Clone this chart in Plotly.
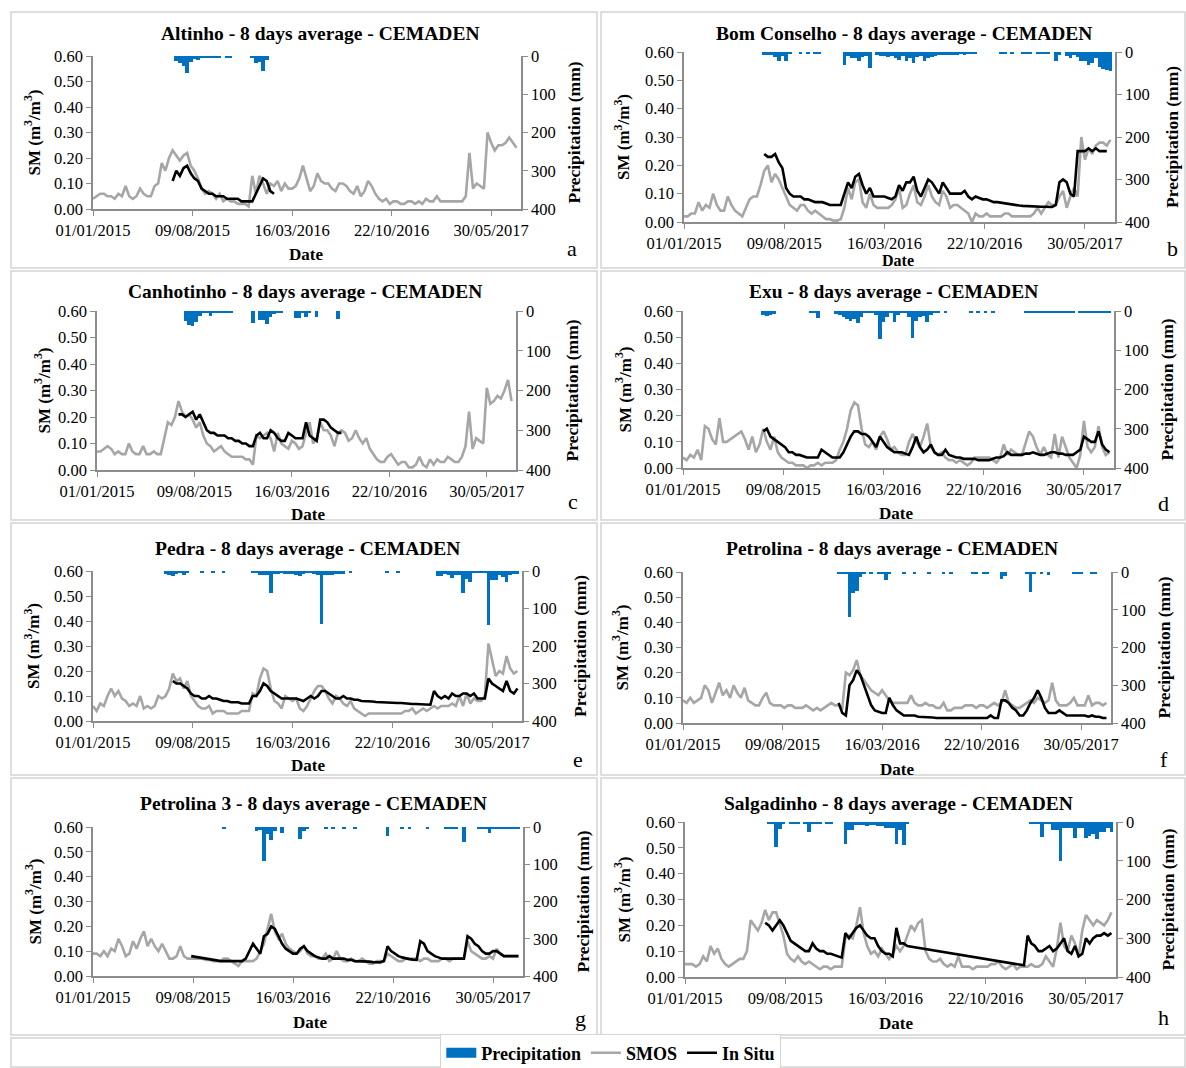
import pandas as pd
import plotly.graph_objects as go

# ---------------------------------------------------------------------------
# Time base: 8-day composites starting 01/01/2015
# ---------------------------------------------------------------------------
START = pd.Timestamp("2015-01-01")
STEP_DAYS = 8
X_END = "2017-08-04"
TICK_DATES = ["2015-01-01", "2015-08-09", "2016-03-16", "2016-10-22", "2017-05-30"]
TICK_TEXT = ["01/01/2015", "09/08/2015", "16/03/2016", "22/10/2016", "30/05/2017"]

stations = ["Altinho", "Bom Conselho", "Canhotinho", "Exu",
            "Pedra", "Petrolina", "Petrolina 3", "Salgadinho"]
letters = ["a", "b", "c", "d", "e", "f", "g", "h"]

# ---------------------------------------------------------------------------
# Soil moisture (m3/m3): SMOS from the first composite, in situ from its start index
# Precipitation (mm per 8 days) from its start index
# ---------------------------------------------------------------------------
a_smos = [0.04, 0.05, 0.06, 0.06, 0.05, 0.05, 0.04, 0.06, 0.05, 0.09,
          0.05, 0.04, 0.05, 0.08, 0.06, 0.05, 0.05, 0.09, 0.10, 0.18,
          0.15, 0.20, 0.23, 0.21, 0.19, 0.21, 0.22, 0.17, 0.15, 0.12,
          0.08, 0.06, 0.07, 0.06, 0.04, 0.06, 0.03, 0.04, 0.03, 0.03,
          0.02, 0.02, 0.02, 0.01, 0.13, 0.06, 0.13, 0.10, 0.06, 0.10,
          0.09, 0.11, 0.07, 0.10, 0.08, 0.08, 0.09, 0.12, 0.17, 0.12,
          0.07, 0.09, 0.14, 0.11, 0.10, 0.10, 0.08, 0.07, 0.10, 0.10,
          0.09, 0.07, 0.06, 0.09, 0.05, 0.07, 0.11, 0.09, 0.06, 0.04,
          0.03, 0.04, 0.02, 0.03, 0.03, 0.02, 0.02, 0.03, 0.03, 0.02,
          0.03, 0.02, 0.04, 0.03, 0.03, 0.05, 0.03, 0.03, 0.03, 0.03,
          0.03, 0.03, 0.03, 0.05, 0.22, 0.08, 0.10, 0.09, 0.08, 0.30,
          0.26, 0.23, 0.25, 0.25, 0.26, 0.28, 0.26, 0.24]
a_insitu_start = 22
a_insitu = [0.11, 0.15, 0.13, 0.16, 0.17, 0.14, 0.12, 0.11, 0.08, 0.07,
            0.06, 0.06, 0.05, 0.05, 0.05, 0.04, 0.04, 0.04, 0.04, 0.03,
            0.03, 0.03, 0.03, 0.06, 0.09, 0.12, 0.11, 0.07, 0.06]
a_rain_start = 23
a_rain = [12, 18, 25, 45, 15, 8, 10, 3, 6, 3, 3, 3, 3, 0, 3, 3, 0, 0, 0, 0,
          0, 3, 18, 15, 40, 10]

b_smos = [0.02, 0.02, 0.03, 0.03, 0.07, 0.04, 0.06, 0.05, 0.10, 0.06,
          0.04, 0.04, 0.09, 0.06, 0.04, 0.03, 0.02, 0.05, 0.08, 0.09,
          0.09, 0.13, 0.18, 0.20, 0.14, 0.17, 0.15, 0.12, 0.09, 0.06,
          0.05, 0.04, 0.06, 0.06, 0.04, 0.03, 0.04, 0.03, 0.02, 0.01,
          0.01, 0.005, 0.005, 0.01, 0.05, 0.12, 0.08, 0.14, 0.15, 0.07,
          0.05, 0.10, 0.06, 0.05, 0.05, 0.05, 0.05, 0.06, 0.08, 0.12,
          0.05, 0.06, 0.10, 0.13, 0.07, 0.06, 0.09, 0.13, 0.09, 0.07,
          0.06, 0.11, 0.09, 0.05, 0.06, 0.06, 0.05, 0.04, 0.03, 0.00,
          0.03, 0.02, 0.02, 0.03, 0.02, 0.02, 0.02, 0.02, 0.03, 0.03,
          0.02, 0.02, 0.02, 0.02, 0.02, 0.02, 0.03, 0.05, 0.03, 0.05,
          0.07, 0.06, 0.06, 0.09, 0.11, 0.05, 0.09, 0.12, 0.09, 0.30,
          0.22, 0.26, 0.24, 0.27, 0.28, 0.28, 0.27, 0.29]
b_insitu_start = 22
b_insitu = [0.24, 0.23, 0.23, 0.24, 0.21, 0.19, 0.12, 0.10, 0.09, 0.09,
            0.09, 0.08, 0.08, 0.075, 0.07, 0.07, 0.07, 0.065, 0.06, 0.06,
            0.06, 0.06, 0.10, 0.14, 0.12, 0.16, 0.17, 0.13, 0.10, 0.12,
            0.09, 0.09, 0.09, 0.09, 0.085, 0.08, 0.09, 0.13, 0.11, 0.14,
            0.14, 0.16, 0.11, 0.09, 0.12, 0.15, 0.14, 0.12, 0.10, 0.14,
            0.12, 0.10, 0.10, 0.10, 0.10, 0.11, 0.09, 0.08, 0.09, 0.085,
            0.08, 0.08, 0.075, 0.07, 0.07, 0.068, 0.065, 0.063, 0.06, 0.06,
            0.058, 0.057, 0.056, 0.055, 0.055, 0.055, 0.054, 0.054, 0.053, 0.053,
            0.06, 0.14, 0.15, 0.14, 0.10, 0.09, 0.25, 0.25, 0.25, 0.26,
            0.25, 0.26, 0.25, 0.25, 0.25]
b_rain_start = 22
b_rain = [8, 8, 8, 12, 20, 10, 22, 5, 0, 0,
          4, 0, 3, 0, 3, 3, 0, 0, 0, 0,
          0, 0, 30, 10, 15, 15, 20, 12, 10, 38,
          0, 8, 10, 10, 12, 10, 15, 18, 10, 20,
          15, 25, 12, 10, 20, 15, 12, 10, 8, 8,
          8, 6, 6, 8, 5, 8, 5, 5, 4, 0,
          0, 0, 0, 0, 0, 3, 3, 0, 3, 0,
          0, 3, 3, 3, 0, 3, 3, 3, 5, 0,
          20, 8, 0, 10, 15, 8, 12, 20, 22, 30,
          25, 15, 35, 40, 42, 45]

c_smos = [0.07, 0.07, 0.08, 0.09, 0.08, 0.06, 0.07, 0.06, 0.06, 0.10,
          0.07, 0.06, 0.06, 0.09, 0.06, 0.06, 0.07, 0.06, 0.06, 0.12,
          0.18, 0.17, 0.20, 0.26, 0.22, 0.20, 0.21, 0.19, 0.16, 0.18,
          0.13, 0.10, 0.09, 0.07, 0.08, 0.09, 0.07, 0.06, 0.05, 0.05,
          0.05, 0.05, 0.04, 0.04, 0.02, 0.13, 0.12, 0.13, 0.14, 0.12,
          0.07, 0.14, 0.10, 0.09, 0.08, 0.11, 0.10, 0.08, 0.09, 0.14,
          0.18, 0.10, 0.12, 0.18, 0.15, 0.15, 0.13, 0.09, 0.14, 0.15,
          0.14, 0.11, 0.12, 0.15, 0.12, 0.10, 0.12, 0.08, 0.06, 0.04,
          0.03, 0.03, 0.05, 0.06, 0.04, 0.02, 0.03, 0.03, 0.01, 0.01,
          0.02, 0.05, 0.02, 0.01, 0.04, 0.02, 0.04, 0.03, 0.03, 0.05,
          0.04, 0.03, 0.03, 0.05, 0.09, 0.22, 0.08, 0.12, 0.11, 0.10,
          0.31, 0.25, 0.26, 0.28, 0.27, 0.30, 0.34, 0.26]
c_insitu_start = 23
c_insitu = [0.21, 0.21, 0.20, 0.21, 0.22, 0.19, 0.21, 0.18, 0.15, 0.14,
            0.14, 0.13, 0.13, 0.13, 0.12, 0.12, 0.11, 0.11, 0.10, 0.10,
            0.09, 0.09, 0.13, 0.14, 0.12, 0.12, 0.15, 0.14, 0.12, 0.11,
            0.11, 0.14, 0.13, 0.12, 0.12, 0.12, 0.18, 0.13, 0.12, 0.11,
            0.19, 0.19, 0.18, 0.16, 0.15, 0.14, 0.14]
c_rain_start = 25
c_rain = [25, 35, 38, 28, 12, 5, 5, 12, 5, 5,
          5, 5, 5, 5, 0, 0, 0, 0, 0, 30,
          0, 22, 22, 32, 15, 8, 5, 5, 0, 0,
          0, 18, 18, 5, 15, 3, 0, 15, 0, 0,
          0, 0, 0, 20]

d_smos = [0.04, 0.03, 0.05, 0.04, 0.07, 0.03, 0.16, 0.15, 0.11, 0.09,
          0.19, 0.10, 0.10, 0.11, 0.12, 0.13, 0.14, 0.11, 0.07, 0.12,
          0.06, 0.09, 0.15, 0.10, 0.07, 0.12, 0.06, 0.04, 0.03, 0.02,
          0.02, 0.01, 0.01, 0.01, 0.00, 0.01, 0.01, 0.02, 0.01, 0.02,
          0.02, 0.02, 0.03, 0.07, 0.10, 0.15, 0.22, 0.25, 0.24, 0.15,
          0.09, 0.08, 0.10, 0.07, 0.12, 0.14, 0.11, 0.07, 0.08, 0.06,
          0.05, 0.05, 0.10, 0.13, 0.10, 0.08, 0.12, 0.17, 0.08, 0.06,
          0.05, 0.06, 0.04, 0.03, 0.03, 0.02, 0.03, 0.02, 0.01, 0.02,
          0.04, 0.04, 0.04, 0.04, 0.04, 0.03, 0.02, 0.04, 0.09, 0.05,
          0.07, 0.06, 0.05, 0.05, 0.10, 0.14, 0.12, 0.08, 0.05, 0.08,
          0.05, 0.04, 0.13, 0.04, 0.12, 0.08, 0.04, 0.02, 0.00, 0.05,
          0.18, 0.08, 0.06, 0.08, 0.16, 0.08, 0.05, 0.06]
d_insitu_start = 22
d_insitu = [0.14, 0.15, 0.12, 0.11, 0.10, 0.09, 0.08, 0.06, 0.06, 0.05,
            0.05, 0.045, 0.04, 0.04, 0.04, 0.04, 0.07, 0.06, 0.05, 0.04,
            0.04, 0.04, 0.06, 0.09, 0.12, 0.14, 0.14, 0.13, 0.13, 0.12,
            0.10, 0.08, 0.12, 0.10, 0.08, 0.07, 0.06, 0.06, 0.06, 0.055,
            0.05, 0.08, 0.12, 0.08, 0.06, 0.07, 0.09, 0.06, 0.05, 0.05,
            0.07, 0.05, 0.045, 0.04, 0.04, 0.035, 0.035, 0.035, 0.035, 0.03,
            0.03, 0.03, 0.03, 0.035, 0.04, 0.04, 0.045, 0.06, 0.05, 0.05,
            0.05, 0.05, 0.055, 0.055, 0.06, 0.055, 0.05, 0.05, 0.055, 0.06,
            0.06, 0.055, 0.055, 0.05, 0.05, 0.05, 0.06, 0.07, 0.12, 0.11,
            0.10, 0.10, 0.14, 0.09, 0.07, 0.06]
d_rain_start = 22
d_rain = [10, 12, 10, 8, 0, 0, 0, 0, 0, 0,
          0, 0, 0, 3, 4, 18, 0, 0, 0, 0,
          8, 10, 15, 20, 25, 20, 30, 15, 5, 3,
          3, 10, 72, 28, 15, 5, 28, 10, 3, 3,
          15, 70, 25, 15, 12, 28, 10, 5, 3, 0,
          3, 0, 0, 0, 0, 0, 0, 3, 0, 3,
          0, 3, 0, 3, 0, 0, 0, 0, 0, 0,
          0, 0, 4, 4, 4, 4, 4, 4, 4, 4,
          4, 4, 4, 4, 4, 4, 0, 4, 4, 4,
          4, 4, 4, 4, 4, 4]

e_smos = [0.06, 0.04, 0.07, 0.06, 0.10, 0.13, 0.10, 0.12, 0.09, 0.08,
          0.06, 0.07, 0.06, 0.10, 0.05, 0.06, 0.05, 0.06, 0.10, 0.09,
          0.10, 0.13, 0.19, 0.16, 0.17, 0.13, 0.16, 0.10, 0.08, 0.06,
          0.05, 0.05, 0.06, 0.03, 0.04, 0.04, 0.04, 0.03, 0.03, 0.03,
          0.03, 0.04, 0.04, 0.04, 0.11, 0.10, 0.17, 0.21, 0.20, 0.13,
          0.08, 0.07, 0.05, 0.10, 0.09, 0.08, 0.09, 0.05, 0.04, 0.06,
          0.09, 0.12, 0.14, 0.14, 0.12, 0.09, 0.07, 0.10, 0.09, 0.07,
          0.06, 0.08, 0.05, 0.04, 0.03, 0.02, 0.03, 0.03, 0.03, 0.03,
          0.03, 0.03, 0.03, 0.03, 0.03, 0.03, 0.04, 0.04, 0.05, 0.03,
          0.04, 0.05, 0.04, 0.05, 0.06, 0.05, 0.06, 0.06, 0.06, 0.07,
          0.06, 0.10, 0.06, 0.11, 0.07, 0.09, 0.08, 0.08, 0.10, 0.31,
          0.25, 0.18, 0.20, 0.19, 0.26, 0.21, 0.19, 0.20]
e_insitu_start = 22
e_insitu = [0.16, 0.15, 0.15, 0.14, 0.13, 0.11, 0.10, 0.10, 0.09, 0.09,
            0.10, 0.09, 0.09, 0.085, 0.08, 0.08, 0.075, 0.075, 0.075, 0.07,
            0.07, 0.07, 0.10, 0.10, 0.12, 0.15, 0.14, 0.12, 0.11, 0.10,
            0.09, 0.09, 0.09, 0.09, 0.09, 0.085, 0.08, 0.09, 0.10, 0.09,
            0.10, 0.12, 0.12, 0.11, 0.10, 0.09, 0.09, 0.10, 0.09, 0.09,
            0.085, 0.085, 0.08, 0.08, 0.08, 0.078, 0.076, 0.075, 0.075, 0.074,
            0.073, 0.072, 0.072, 0.072, 0.07, 0.068, 0.068, 0.068, 0.067, 0.066,
            0.065, 0.065, 0.12, 0.10, 0.09, 0.10, 0.09, 0.11, 0.10, 0.10,
            0.11, 0.11, 0.10, 0.11, 0.09, 0.09, 0.09, 0.17, 0.15, 0.14,
            0.13, 0.12, 0.16, 0.12, 0.11, 0.13]
e_rain_start = 20
e_rain = [8, 10, 12, 8, 6, 10, 4, 0, 0, 0,
          5, 0, 0, 5, 0, 0, 5, 0, 0, 0,
          0, 0, 0, 0, 5, 5, 10, 10, 10, 58,
          8, 8, 5, 8, 8, 8, 10, 12, 8, 5,
          5, 8, 10, 140, 10, 10, 10, 8, 8, 8,
          0, 3, 0, 0, 0, 0, 0, 0, 0, 0,
          0, 5, 0, 0, 5, 0, 0, 0, 0, 0,
          0, 0, 0, 0, 0, 13, 13, 8, 10, 18,
          10, 10, 58, 20, 28, 5, 5, 5, 5, 145,
          25, 25, 10, 15, 28, 10, 8, 8]

f_smos = [0.09, 0.08, 0.10, 0.08, 0.09, 0.10, 0.15, 0.13, 0.08, 0.12,
          0.16, 0.11, 0.13, 0.10, 0.15, 0.12, 0.10, 0.14, 0.09, 0.08,
          0.07, 0.07, 0.10, 0.12, 0.08, 0.07, 0.07, 0.07, 0.06, 0.07,
          0.07, 0.06, 0.06, 0.06, 0.07, 0.06, 0.05, 0.06, 0.05, 0.06,
          0.07, 0.08, 0.07, 0.07, 0.06, 0.20, 0.19, 0.21, 0.25, 0.19,
          0.17, 0.15, 0.13, 0.12, 0.11, 0.13, 0.11, 0.09, 0.08, 0.08,
          0.08, 0.08, 0.08, 0.11, 0.08, 0.07, 0.07, 0.08, 0.07, 0.07,
          0.06, 0.06, 0.08, 0.05, 0.05, 0.06, 0.06, 0.06, 0.07, 0.07,
          0.07, 0.06, 0.07, 0.07, 0.06, 0.07, 0.08, 0.07, 0.08, 0.13,
          0.08, 0.07, 0.06, 0.06, 0.07, 0.08, 0.09, 0.08, 0.10, 0.09,
          0.08, 0.09, 0.16, 0.09, 0.07, 0.07, 0.07, 0.08, 0.10, 0.07,
          0.07, 0.07, 0.11, 0.07, 0.08, 0.08, 0.07, 0.08]
f_insitu_start = 43
f_insitu = [0.08, 0.04, 0.03, 0.15, 0.17, 0.21, 0.19, 0.15, 0.11, 0.07,
            0.05, 0.045, 0.04, 0.04, 0.10, 0.07, 0.05, 0.04, 0.03, 0.03,
            0.03, 0.03, 0.025, 0.025, 0.025, 0.022, 0.022, 0.02, 0.02, 0.02,
            0.02, 0.02, 0.02, 0.02, 0.02, 0.02, 0.02, 0.02, 0.02, 0.02,
            0.02, 0.02, 0.03, 0.02, 0.02, 0.09, 0.09, 0.08, 0.06, 0.05,
            0.03, 0.03, 0.05, 0.08, 0.10, 0.13, 0.10, 0.06, 0.04, 0.04,
            0.04, 0.05, 0.04, 0.03, 0.03, 0.03, 0.03, 0.03, 0.03, 0.025,
            0.03, 0.025, 0.025, 0.02, 0.02]
f_rain_start = 43
f_rain = [5, 5, 5, 120, 55, 50, 12, 5, 0, 3,
          0, 3, 3, 20, 3, 0, 0, 0, 3, 0,
          0, 3, 0, 0, 0, 3, 0, 0, 0, 3,
          0, 3, 0, 0, 0, 0, 0, 3, 3, 0,
          5, 5, 0, 0, 0, 18, 10, 0, 0, 0,
          0, 0, 5, 53, 5, 0, 5, 0, 8, 0,
          0, 0, 0, 0, 0, 3, 3, 3, 0, 0,
          3, 3]

g_smos = [0.09, 0.09, 0.08, 0.10, 0.08, 0.11, 0.10, 0.15, 0.12, 0.08,
          0.09, 0.14, 0.11, 0.15, 0.18, 0.12, 0.15, 0.12, 0.10, 0.13,
          0.10, 0.07, 0.07, 0.08, 0.12, 0.08, 0.07, 0.07, 0.07, 0.07,
          0.07, 0.065, 0.065, 0.06, 0.06, 0.06, 0.07, 0.07, 0.06, 0.05,
          0.04, 0.06, 0.06, 0.06, 0.06, 0.07, 0.10, 0.13, 0.19, 0.25,
          0.18, 0.15, 0.17, 0.13, 0.11, 0.10, 0.09, 0.10, 0.12, 0.09,
          0.08, 0.08, 0.07, 0.07, 0.09, 0.06, 0.07, 0.10, 0.07, 0.06,
          0.06, 0.07, 0.06, 0.06, 0.07, 0.06, 0.05, 0.05, 0.06, 0.06,
          0.06, 0.09, 0.08, 0.07, 0.06, 0.06, 0.07, 0.07, 0.07, 0.07,
          0.06, 0.07, 0.07, 0.06, 0.06, 0.06, 0.07, 0.07, 0.06, 0.07,
          0.07, 0.07, 0.07, 0.14, 0.10, 0.09, 0.08, 0.07, 0.07, 0.08,
          0.07, 0.11, 0.09, 0.08, 0.08, 0.08, 0.08, 0.08]
g_insitu_start = 27
g_insitu = [0.08, 0.078, 0.075, 0.072, 0.07, 0.068, 0.065, 0.063, 0.06, 0.06,
            0.06, 0.06, 0.06, 0.06, 0.06, 0.07, 0.10, 0.13, 0.11, 0.09,
            0.16, 0.17, 0.20, 0.19, 0.16, 0.13, 0.11, 0.10, 0.09, 0.09,
            0.11, 0.12, 0.10, 0.09, 0.08, 0.075, 0.07, 0.07, 0.08, 0.07,
            0.07, 0.07, 0.07, 0.065, 0.065, 0.06, 0.06, 0.06, 0.06, 0.058,
            0.056, 0.055, 0.055, 0.06, 0.12, 0.10, 0.09, 0.08, 0.075, 0.07,
            0.068, 0.066, 0.065, 0.14, 0.13, 0.10, 0.09, 0.08, 0.075, 0.07,
            0.07, 0.07, 0.07, 0.07, 0.07, 0.07, 0.16, 0.15, 0.13, 0.12,
            0.10, 0.09, 0.09, 0.10, 0.10, 0.09, 0.08, 0.08, 0.08, 0.08,
            0.08]
g_rain_start = 36
g_rain = [3, 0, 0, 0, 0, 0, 0, 0, 0, 10,
          8, 90, 20, 36, 10, 0, 15, 0, 0, 0,
          0, 31, 10, 5, 0, 0, 0, 0, 5, 0,
          5, 0, 0, 5, 0, 0, 5, 0, 0, 0,
          0, 0, 0, 0, 0, 25, 0, 0, 0, 5,
          0, 5, 0, 0, 0, 0, 5, 0, 0, 0,
          0, 5, 5, 5, 5, 0, 40, 0, 0, 0,
          5, 5, 5, 15, 5, 5, 5, 5, 5, 5,
          5, 5]

h_smos = [0.05, 0.05, 0.05, 0.04, 0.05, 0.08, 0.06, 0.12, 0.09, 0.11,
          0.07, 0.05, 0.04, 0.05, 0.06, 0.07, 0.07, 0.10, 0.22, 0.20,
          0.18, 0.21, 0.26, 0.22, 0.25, 0.25, 0.20, 0.16, 0.09, 0.07,
          0.06, 0.08, 0.06, 0.05, 0.06, 0.05, 0.04, 0.03, 0.04, 0.04,
          0.03, 0.04, 0.04, 0.04, 0.15, 0.16, 0.15, 0.20, 0.27, 0.17,
          0.12, 0.09, 0.10, 0.08, 0.11, 0.09, 0.07, 0.09, 0.12, 0.10,
          0.12, 0.16, 0.20, 0.18, 0.21, 0.22, 0.10, 0.07, 0.06, 0.06,
          0.07, 0.05, 0.04, 0.05, 0.04, 0.08, 0.04, 0.04, 0.04, 0.03,
          0.04, 0.04, 0.04, 0.04, 0.05, 0.05, 0.06, 0.04, 0.03, 0.04,
          0.05, 0.03, 0.04, 0.04, 0.04, 0.05, 0.04, 0.04, 0.05, 0.08,
          0.06, 0.04, 0.11, 0.21, 0.12, 0.10, 0.16, 0.13, 0.08, 0.18,
          0.24, 0.22, 0.20, 0.22, 0.21, 0.20, 0.22, 0.25]
h_insitu_start = 22
# None marks the composites with no in situ record (the line bridges the gap)
h_insitu = [0.21, 0.20, 0.18, 0.20, 0.22, 0.20, 0.17, 0.14, 0.13, 0.12,
            0.11, 0.10, 0.10, 0.13, 0.11, 0.10, 0.10, 0.09, 0.09, 0.085,
            0.08, 0.075, 0.17, 0.15, 0.17, 0.19, 0.20, 0.18, 0.16, 0.15,
            0.15, 0.12, 0.10, 0.09, 0.09, 0.08, 0.19, 0.13, 0.13, 0.12,
            None, None, None, None, None, None, None, None, None, None,
            None, None, None, None, None, None, None, None, None, None,
            None, None, None, None, None, None, None, None, None, None,
            0.05, 0.045, 0.16, 0.13, 0.12, 0.10, 0.10, 0.11, 0.12, 0.10,
            0.11, 0.13, 0.15, 0.10, 0.09, 0.12, 0.08, 0.09, 0.15, 0.13,
            0.15, 0.16, 0.16, 0.17, 0.16, 0.17]
h_rain_start = 23
h_rain = [5, 5, 65, 17, 5, 0, 3, 3, 3, 0,
          5, 26, 3, 3, 3, 0, 3, 3, 0, 0,
          0, 56, 20, 20, 8, 8, 8, 10, 8, 8,
          10, 10, 15, 15, 15, 56, 20, 60, 5, 0,
          0, 0, 0, 0, 0, 0, 0, 0, 0, 0,
          0, 0, 0, 0, 0, 0, 0, 0, 0, 0,
          0, 0, 0, 0, 0, 0, 0, 0, 0, 0,
          0, 0, 5, 5, 5, 39, 5, 5, 20, 20,
          100, 15, 15, 15, 40, 15, 15, 40, 35, 30,
          45, 25, 25, 15, 25]

smos_series = [a_smos, b_smos, c_smos, d_smos, e_smos, f_smos, g_smos, h_smos]
insitu_series = [(a_insitu_start, a_insitu), (b_insitu_start, b_insitu),
                 (c_insitu_start, c_insitu), (d_insitu_start, d_insitu),
                 (e_insitu_start, e_insitu), (f_insitu_start, f_insitu),
                 (g_insitu_start, g_insitu), (h_insitu_start, h_insitu)]
rain_series = [(a_rain_start, a_rain), (b_rain_start, b_rain),
               (c_rain_start, c_rain), (d_rain_start, d_rain),
               (e_rain_start, e_rain), (f_rain_start, f_rain),
               (g_rain_start, g_rain), (h_rain_start, h_rain)]

# ---------------------------------------------------------------------------
# Page layout (pixels)
# ---------------------------------------------------------------------------
W, H = 1186, 1068
FONT = "Liberation Serif, Times New Roman, serif"
AXIS_GREY = "#8c8c8c"
RAIN_BLUE = "#0070c0"
SMOS_GREY = "#a6a6a6"

panel_boxes = [(11, 12, 597, 268), (601, 12, 1185, 268),
               (11, 271, 597, 520), (601, 271, 1185, 520),
               (11, 523, 597, 775), (601, 523, 1185, 775),
               (11, 778, 597, 1035), (601, 778, 1185, 1035)]
plot_boxes = [(93, 56, 521, 209), (684, 52, 1115, 222),
              (97, 311, 516, 470), (683, 311, 1114, 468),
              (93, 571, 522, 721), (683, 572, 1111, 723),
              (93, 827, 523, 976), (685, 822, 1116, 977)]
title_pos = [(320, 34), (904, 33), (305, 291), (893, 291),
             (307, 548), (892, 548), (313, 803), (898, 803)]
date_pos = [(306, 255), (898, 260), (308, 514), (896, 513),
            (308, 765), (897, 769), (310, 1022), (896, 1023)]
sm_title_x = [32, 622, 42, 624, 32, 620, 33, 622]
pr_title_x = [573, 1172, 571, 1167, 580, 1163, 582, 1167]
letter_pos = [(572, 249), (1172, 248), (573, 501), (1163, 503),
              (578, 759), (1164, 759), (580, 1018), (1163, 1017)]
date_size = [17, 16, 17, 17, 17, 17, 17, 17]


def px(x):
    return x / W


def py(y):
    return 1 - y / H


def composite_dates(start_idx, n):
    return [START + pd.Timedelta(days=STEP_DAYS * (start_idx + i)) for i in range(n)]


fig = go.Figure()
annotations = []
shapes = []

for k in range(8):
    xa = "x" if k == 0 else f"x{k + 1}"
    yl = "y" if k == 0 else f"y{2 * k + 1}"
    yr = f"y{2 * k + 2}"

    r0, rain = rain_series[k]
    fig.add_trace(go.Bar(
        x=composite_dates(r0, len(rain)), y=rain, xaxis=xa, yaxis=yr,
        width=STEP_DAYS * 86400000, marker=dict(color=RAIN_BLUE, line_width=0),
        name="Precipitation", showlegend=False))

    smos = smos_series[k]
    fig.add_trace(go.Scatter(
        x=composite_dates(0, len(smos)), y=smos, xaxis=xa, yaxis=yl, mode="lines",
        line=dict(color=SMOS_GREY, width=2.6), name="SMOS", showlegend=False))

    i0, insitu = insitu_series[k]
    fig.add_trace(go.Scatter(
        x=composite_dates(i0, len(insitu)), y=insitu, xaxis=xa, yaxis=yl,
        mode="lines", connectgaps=True, line=dict(color="black", width=2.6),
        name="In Situ", showlegend=False))

    x0, y0, x1, y1 = plot_boxes[k]
    common = dict(showline=True, linecolor=AXIS_GREY, linewidth=1.5, ticks="outside",
                  ticklen=5, tickcolor=AXIS_GREY, showgrid=False, zeroline=False,
                  automargin=False,
                  tickfont=dict(family=FONT, size=16.5, color="black"))
    fig.layout[("xaxis" if k == 0 else f"xaxis{k + 1}")] = dict(
        type="date", domain=[px(x0), px(x1)], anchor=yl,
        range=[START.strftime("%Y-%m-%d"), X_END],
        tickmode="array", tickvals=TICK_DATES, ticktext=TICK_TEXT, **common)
    fig.layout[("yaxis" if k == 0 else f"yaxis{2 * k + 1}")] = dict(
        domain=[py(y1), py(y0)], anchor=xa, range=[0, 0.6], dtick=0.1,
        tickformat=".2f", **common)
    fig.layout[f"yaxis{2 * k + 2}"] = dict(
        domain=[py(y1), py(y0)], anchor=xa, overlaying=yl, side="right",
        range=[400, 0], dtick=100, **common)

    # panel frame
    bx0, by0, bx1, by1 = panel_boxes[k]
    shapes.append(dict(type="rect", xref="paper", yref="paper",
                       x0=px(bx0), x1=px(bx1), y0=py(by1), y1=py(by0),
                       line=dict(color="#d4d4d4", width=1.5), layer="below"))

    tx, ty = title_pos[k]
    annotations.append(dict(text=f"<b>{stations[k]} - 8 days average - CEMADEN</b>",
                            x=px(tx), y=py(ty), font=dict(size=19.5)))
    dx, dy = date_pos[k]
    annotations.append(dict(text="<b>Date</b>", x=px(dx), y=py(dy),
                            font=dict(size=date_size[k])))
    ymid = (y0 + y1) / 2
    annotations.append(dict(text="<b>SM (m<sup>3</sup>/m<sup>3</sup>)</b>",
                            x=px(sm_title_x[k]), y=py(ymid), textangle=-90,
                            font=dict(size=17)))
    annotations.append(dict(text="<b>Precipitation (mm)</b>",
                            x=px(pr_title_x[k]), y=py(ymid), textangle=-90,
                            font=dict(size=17.5)))
    lx, ly = letter_pos[k]
    annotations.append(dict(text=letters[k], x=px(lx), y=py(ly), font=dict(size=22)))

# Legend entries (one per series type, drawn in the shared legend row)
fig.add_trace(go.Scatter(x=[None], y=[None], mode="lines", name="<b>Precipitation</b>",
                         line=dict(color=RAIN_BLUE, width=12)))
fig.add_trace(go.Scatter(x=[None], y=[None], mode="lines", name="<b>SMOS</b>",
                         line=dict(color=SMOS_GREY, width=2.6)))
fig.add_trace(go.Scatter(x=[None], y=[None], mode="lines", name="<b>In Situ</b>",
                         line=dict(color="black", width=2.6)))

for a in annotations:
    a.update(xref="paper", yref="paper", showarrow=False,
             xanchor="center", yanchor="middle")
    a["font"].update(family=FONT, color="black")

# frame of the legend row
shapes.append(dict(type="rect", xref="paper", yref="paper",
                   x0=px(11), x1=px(1185), y0=py(1067), y1=py(1038),
                   line=dict(color="#d4d4d4", width=1.5), layer="below"))

fig.update_layout(
    width=W, height=H, margin=dict(l=0, r=0, t=0, b=0, autoexpand=False),
    paper_bgcolor="white", plot_bgcolor="white",
    barmode="overlay", bargap=0,
    annotations=annotations, shapes=shapes,
    font=dict(family=FONT, color="black"),
    legend=dict(orientation="h", x=0.515, xanchor="center", y=py(1053), yanchor="middle",
                font=dict(family=FONT, size=18, color="black"),
                bordercolor="#d4d4d4", borderwidth=1, itemwidth=30,
                tracegroupgap=0, bgcolor="white"),
)

fig.write_html("out.html")
